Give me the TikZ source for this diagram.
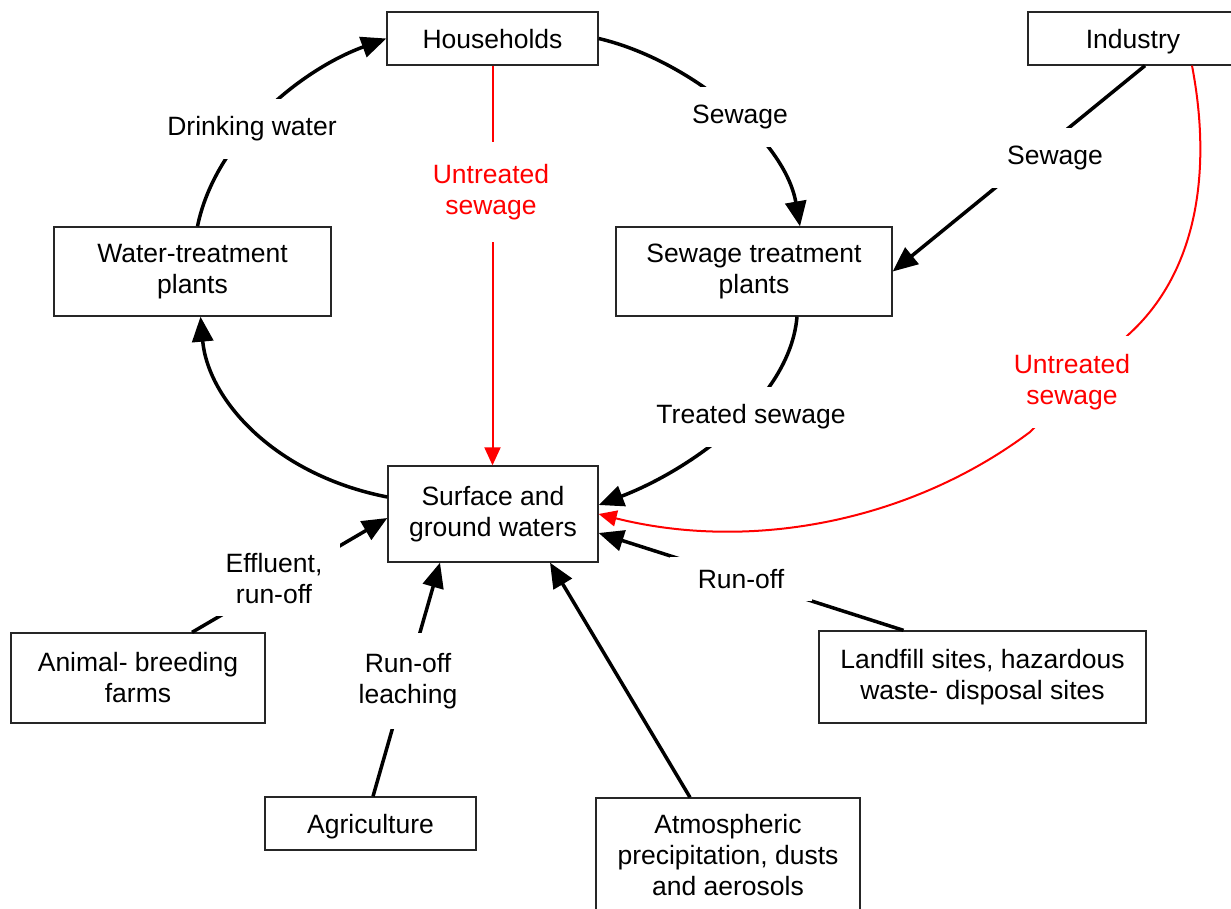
\documentclass[tikz,border=0pt]{standalone}
\usepackage{fontspec}
\setmainfont{Liberation Sans}
\usetikzlibrary{arrows.meta,calc}
\tikzset{
  txt/.style={font=\fontsize{26.5}{31}\selectfont, align=center},
  box/.style={txt, draw=black!85, line width=1.3pt, fill=white, inner sep=2pt},
  onebox/.style={box, text height=19.5pt, text depth=0pt},
  lbl/.style={txt, fill=white, inner xsep=18pt, inner ysep=18pt},
  redlbl/.style={lbl, text=red},
  arr/.style={line width=3.5pt, -{Triangle[length=25pt,width=21pt]}},
  redarr/.style={line width=2pt, red, -{Triangle[length=18pt,width=16pt]}},
}
\begin{document}
\begin{tikzpicture}[x=1pt,y=-1pt]
\useasboundingbox (0,0) rectangle (1231,909);
\clip (0,0) rectangle (1231,909);
% boxes
\node[onebox, minimum width=211pt, minimum height=53pt] (hh) at (492.5,38.5) {Households};
\node[onebox, minimum width=210pt, minimum height=53pt] (ind) at (1133,38.5) {Industry};
\node[box, minimum width=277pt, minimum height=89pt] (wt) at (192.5,271.5) {Water-treatment\\plants};
\node[box, minimum width=276pt, minimum height=89pt] (st) at (754,271.5) {Sewage treatment\\plants};
\node[box, minimum width=210pt, minimum height=96pt] (sw) at (493,514) {Surface and\\ground waters};
\node[box, minimum width=254pt, minimum height=90pt] (af) at (138,678) {Animal- breeding\\farms};
\node[box, minimum width=327pt, minimum height=92pt] (lf) at (982.5,677) {Landfill sites, hazardous\\waste- disposal sites};
\node[onebox, minimum width=211pt, minimum height=53pt] (ag) at (370.5,823.5) {Agriculture};
\node[box, minimum width=264pt, minimum height=114pt] (at) at (728,855) {Atmospheric\\precipitation, dusts\\and aerosols};
% connectors
\draw[arr] ($(wt.north)+(5,0)$) .. controls (215,140) and (300,70) .. (hh.west);
\draw[arr] (hh.east) .. controls (690,60) and (785,140) .. ($(st.north)+(46,0)$);
\draw[arr] ($(ind.south)+(12,0)$) -- (st.east);
\draw[redarr] (hh.south) -- (hh.south |- sw.north);
\draw[arr] ($(st.south)+(43,0)$) .. controls (790,400) and (690,470) .. ($(sw.east)+(0,-9)$);
\draw[redarr] ($(ind.south)+(59,0)$) .. controls (1212,170) and (1198,272) .. (1128,335) -- (1030,432) .. controls (910,522) and (750,552) .. (sw.east);
\draw[arr] ($(sw.west)+(0,-17)$) .. controls (275,475) and (208,400) .. ($(wt.south)+(8,0)$);
\draw[arr] ($(lf.north)+(-79,0)$) -- ($(sw.east)+(0,19)$);
\draw[arr] ($(af.north)+(54,0)$) -- ($(sw.west)+(0,4)$);
\draw[arr] ($(ag.north)+(2.5,0)$) -- ($(sw.south)+(-53,0)$);
\draw[arr] ($(at.north)+(-38,0)$) -- ($(sw.south)+(57,0)$);
% labels
\node[lbl] (l1) at (252,129) {Drinking water};
\node[lbl] (l2) at (740,117) {Sewage};
\node[lbl] (l3) at (1055,158) {Sewage};
\node[redlbl, inner ysep=22pt] (l4) at (491,192) {Untreated\\sewage};
\node[lbl] (l5) at (751,417) {Treated sewage};
\node[redlbl] (l6) at (1072,382) {Untreated\\sewage};
\node[lbl, inner xsep=28pt, inner ysep=12pt] (l7) at (741,579) {Run-off};
\node[lbl, inner ysep=12pt] (l8) at (274,579) {Effluent,\\run-off};
\node[lbl, inner ysep=20pt] (l9) at (408,681) {Run-off\\leaching};
\end{tikzpicture}
\end{document}
